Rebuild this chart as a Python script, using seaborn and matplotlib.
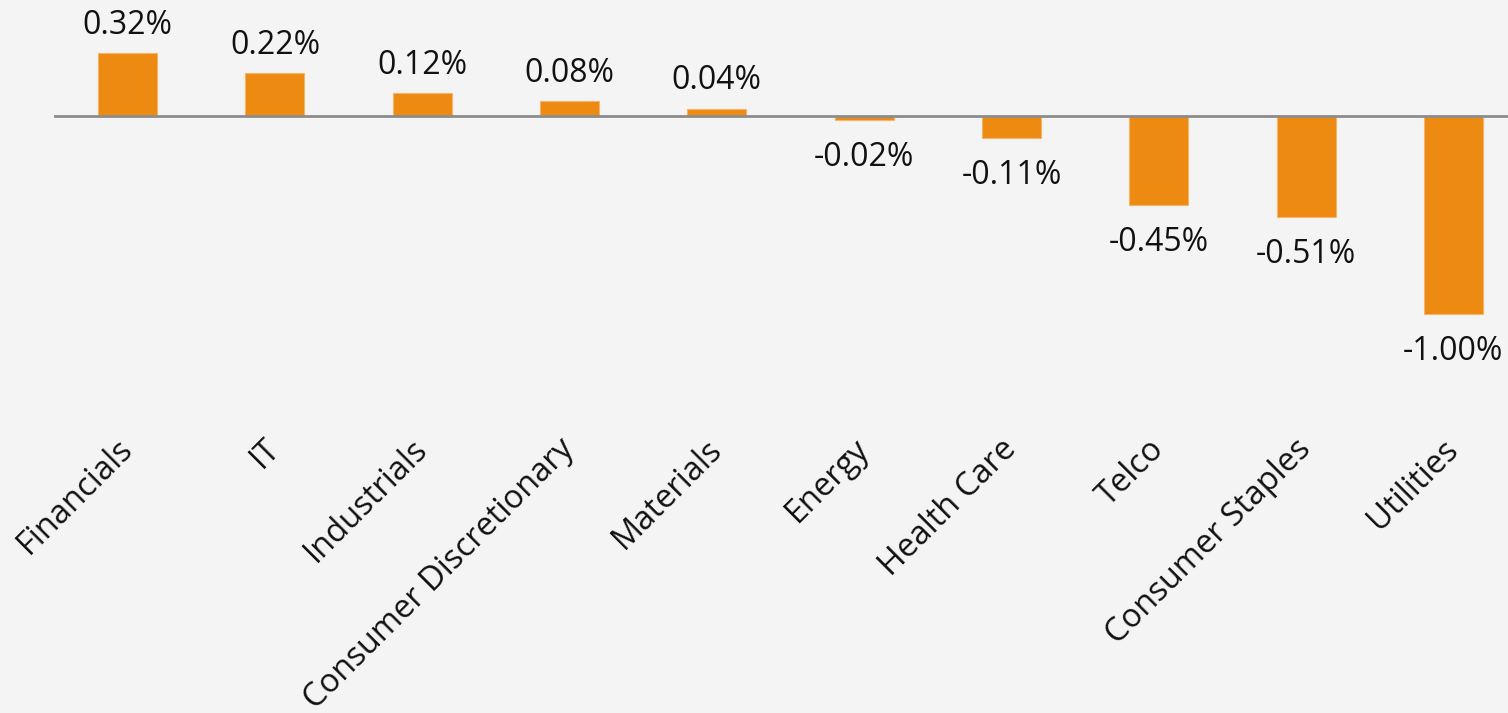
import matplotlib
matplotlib.use("Agg")
import matplotlib.pyplot as plt
import seaborn as sns
import pandas as pd

categories = ["Financials", "IT", "Industrials", "Consumer Discretionary", "Materials",
              "Energy", "Health Care", "Telco", "Consumer Staples", "Utilities"]
values = [0.32, 0.22, 0.12, 0.08, 0.04, -0.02, -0.11, -0.45, -0.51, -1.00]
value_labels = ["0.32%", "0.22%", "0.12%", "0.08%", "0.04%", "-0.02%", "-0.11%", "-0.45%", "-0.51%", "-1.00%"]

sns.set_theme(style="white")
plt.rcParams['font.family'] = ['Open Sans', 'DejaVu Sans']

W, H = 1508, 713
fig = plt.figure(figsize=(W / 100, H / 100), dpi=100)
bg = "#f4f4f4"
fig.patch.set_facecolor(bg)
ax = fig.add_axes([54 / W, 273 / H, 1473 / W, 432 / H])
ax.set_facecolor(bg)

df = pd.DataFrame({"cat": categories, "val": values})
sns.barplot(data=df, x="cat", y="val", color="#EC8A12", saturation=1, width=0.4,
            edgecolor="#f6b36a", linewidth=0.8, ax=ax)

ax.axhline(0, color="#8c8c8c", lw=2, zorder=3)
ax.set_xlim(-0.5, 9.5)
ax.set_ylim(-1.638, 0.549)
for s in ax.spines.values():
    s.set_visible(False)
ax.set_yticks([])
ax.set_xlabel("")
ax.set_ylabel("")
ax.set_xticks(range(len(categories)))
ax.set_xticklabels(categories, rotation=45, ha="right", va="center",
                   rotation_mode="anchor", fontsize=23.5, color="#111111")
ax.tick_params(axis="x", length=0, pad=3)

pos_labels = [l if v >= 0 else "" for l, v in zip(value_labels, values)]
neg_labels = [l if v < 0 else "" for l, v in zip(value_labels, values)]
ax.bar_label(ax.containers[0], labels=pos_labels, padding=8, fontsize=23, color="#111111")
ax.bar_label(ax.containers[0], labels=neg_labels, padding=15, fontsize=23, color="#111111")

fig.savefig("out.png", dpi=100, facecolor=bg)
